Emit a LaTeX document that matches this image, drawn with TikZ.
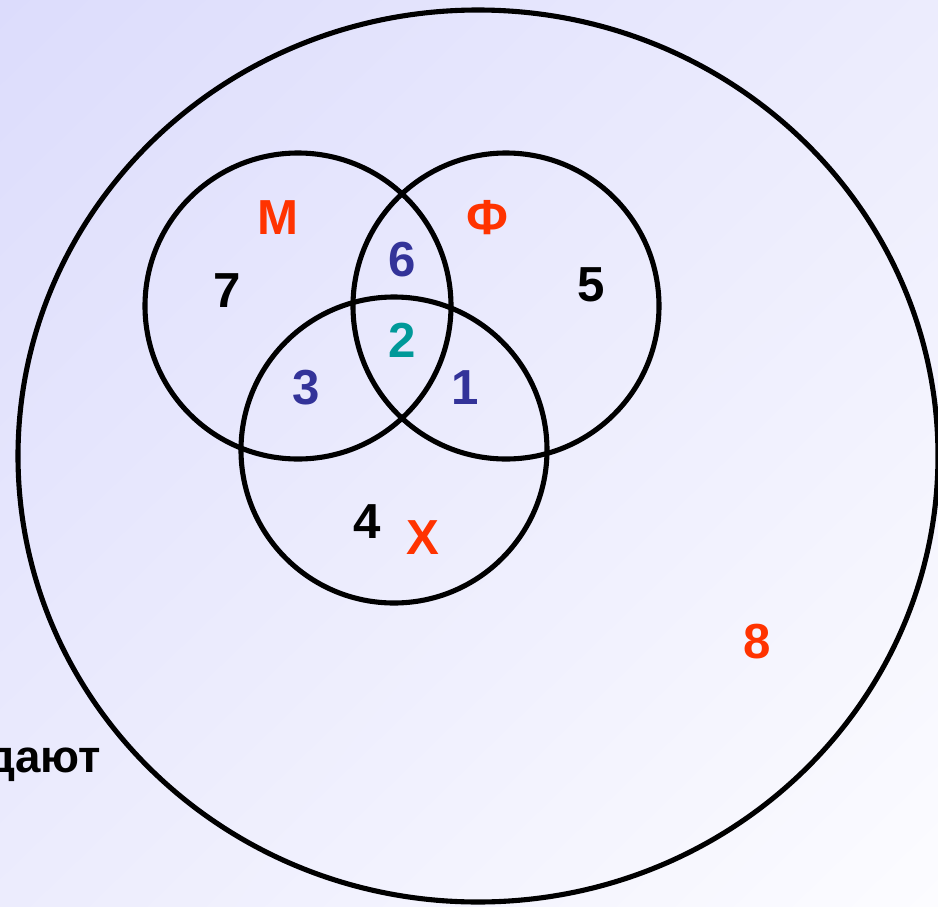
\documentclass[tikz,border=0pt]{standalone}
\usepackage{fontspec}
\setmainfont{Liberation Sans}
\usepackage{xcolor}
\usepackage{tikz}
\usetikzlibrary{positioning, shadings}

\definecolor{bgTop}{RGB}{220,220,252}
\definecolor{bgMid}{RGB}{236,236,253}
\definecolor{bgBot}{RGB}{252,252,255}
\definecolor{setRed}{RGB}{255,51,0}
\definecolor{setBlue}{RGB}{51,51,153}
\definecolor{setTeal}{RGB}{0,153,153}

\begin{document}
\begin{tikzpicture}[
        x=0.02cm, y=-0.02cm,
        ring/.style={draw=black, line width=2.9pt},
        lbl/.style={font=\fontsize{28}{30}\selectfont\bfseries, inner sep=0pt},
        setname/.style={lbl, text=setRed},
        part/.style={lbl, text=setBlue}
    ]
        % Hintergrund
        \clip (0,0) rectangle (938,907);
        \shade[upper left=bgTop, upper right=bgMid, lower left=bgMid, lower right=bgBot]
            (0,0) rectangle (938,907);

        % Kreise
        \coordinate (cU) at (478,456);
        \coordinate (cM) at (298,306);
        \coordinate (cF) at (506,306);
        \coordinate (cX) at (394,450);
        \draw[ring] (cU) ellipse (460 and 446);
        \draw[ring] (cM) circle (153);
        \draw[ring] (cF) circle (153);
        \draw[ring] (cX) circle (153);

        % Namen der Mengen
        \node[setname] (nM) at (278,218) {М};
        \node[setname] (nF) at (487,218) {Ф};
        \node[setname] (nX) at (423,538) {Х};
        \node[setname] (n8) at (757,642) {8};

        % Teilbereiche
        \node[lbl] (n7) at (227,291) {7};
        \node[lbl] (n5) at (591,285) {5};
        \node[lbl] (n4) at (367,522) {4};
        \node[part] (n6) at (402,260) {6};
        \node[part] (n3) at (306,388) {3};
        \node[part] (n1) at (465,388) {1};
        \node[lbl, text=setTeal] (n2) at (402,340) {2};

        % Rest am linken Rand (im Original abgeschnitten)
        \node[lbl, font=\fontsize{26}{28}\selectfont\bfseries, anchor=base east] (nRest) at (101,772) {дают};
    \end{tikzpicture}
\end{document}
